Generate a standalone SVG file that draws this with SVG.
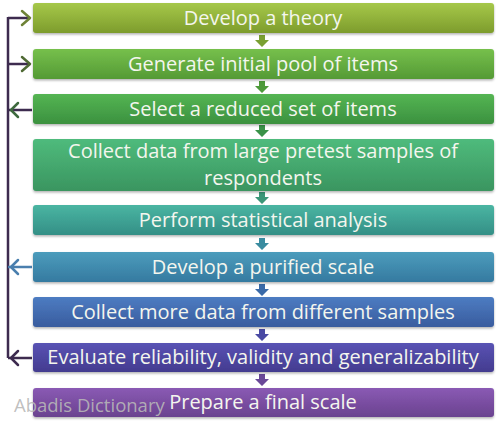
<svg xmlns="http://www.w3.org/2000/svg" width="500" height="423" viewBox="0 0 500 423">
<defs>
<linearGradient id="g1" x1="0" y1="0" x2="0" y2="1"><stop offset="0" stop-color="#a6c84a"/><stop offset="1" stop-color="#7d9c2c"/></linearGradient>
<linearGradient id="g2" x1="0" y1="0" x2="0" y2="1"><stop offset="0" stop-color="#76c04c"/><stop offset="1" stop-color="#559a35"/></linearGradient>
<linearGradient id="g3" x1="0" y1="0" x2="0" y2="1"><stop offset="0" stop-color="#55b553"/><stop offset="1" stop-color="#3b913f"/></linearGradient>
<linearGradient id="g4" x1="0" y1="0" x2="0" y2="1"><stop offset="0" stop-color="#4fbb7c"/><stop offset="1" stop-color="#3a9560"/></linearGradient>
<linearGradient id="g5" x1="0" y1="0" x2="0" y2="1"><stop offset="0" stop-color="#4ab5a2"/><stop offset="1" stop-color="#348f86"/></linearGradient>
<linearGradient id="g6" x1="0" y1="0" x2="0" y2="1"><stop offset="0" stop-color="#4c9cbc"/><stop offset="1" stop-color="#357aa0"/></linearGradient>
<linearGradient id="g7" x1="0" y1="0" x2="0" y2="1"><stop offset="0" stop-color="#4d7cc2"/><stop offset="1" stop-color="#395c9e"/></linearGradient>
<linearGradient id="g8" x1="0" y1="0" x2="0" y2="1"><stop offset="0" stop-color="#5953b4"/><stop offset="1" stop-color="#433b8f"/></linearGradient>
<linearGradient id="g9" x1="0" y1="0" x2="0" y2="1"><stop offset="0" stop-color="#8a5ab4"/><stop offset="1" stop-color="#6a428f"/></linearGradient>
<filter id="sh" x="-5%" y="-20%" width="110%" height="150%"><feDropShadow dx="0" dy="1.5" stdDeviation="1" flood-color="#000" flood-opacity="0.3"/></filter>
<path id="da" d="M-3,0 h6 v5 h4 l-7,7 l-7,-7 h4 z"/>
</defs>
<style>
.box{filter:url(#sh)}
.t{font-family:"Open Sans","Liberation Sans",sans-serif;font-size:20px;fill:#f4f6ee;text-anchor:middle}
.fb{fill:none;stroke:#3d2b4f;stroke-width:2.5}
.ah{fill:none;stroke-width:2.5;stroke-linecap:round;stroke-linejoin:round}
.wm{font-family:"Open Sans","Liberation Sans",sans-serif;font-size:18.5px;fill:#b8b8b8;fill-opacity:0.9}
</style>
<g id="connectors">
<path class="fb" d="M8,17 V358"/>
<path class="fb" d="M8,18 H30"/>
<path class="fb" d="M8,64 H30"/>
<path class="fb" d="M8,110 H32"/>
<path d="M8,267 H32" fill="none" stroke="#4a7fae" stroke-width="2.5"/>
<path class="fb" d="M8,358 H32"/>
<path class="ah" stroke="#6e8236" d="M22,11 L30,18 L22,25"/>
<path class="ah" stroke="#4f6a34" d="M22,57 L30,64 L22,71"/>
<path class="ah" stroke="#3e6a3e" d="M18,103 L11,110 L18,117"/>
<path class="ah" stroke="#4a7fae" d="M18,260 L11,267 L18,274"/>
<path class="ah" stroke="#3d2b4f" d="M18,351 L11,358 L18,365"/>
<use href="#da" x="262" y="35" fill="#7aa032"/>
<use href="#da" x="262" y="81" fill="#4d9a3a"/>
<use href="#da" x="262" y="125" fill="#3a9248"/>
<use href="#da" x="262" y="192" fill="#3b9678"/>
<use href="#da" x="262" y="238" fill="#3a8ca0"/>
<use href="#da" x="262" y="284" fill="#3a6aa8"/>
<use href="#da" x="262" y="329" fill="#4a4aa4"/>
<use href="#da" x="262" y="374" fill="#6a4898"/>
</g>
<g id="n1"><rect class="box" x="33" y="3" width="461" height="30" rx="3" fill="url(#g1)"/><text class="t" x="263" y="25">Develop a theory</text></g>
<g id="n2"><rect class="box" x="33" y="49" width="461" height="30" rx="3" fill="url(#g2)"/><text class="t" x="263" y="71">Generate initial pool of items</text></g>
<g id="n3"><rect class="box" x="33" y="94" width="461" height="30" rx="3" fill="url(#g3)"/><text class="t" x="263" y="116">Select a reduced set of items</text></g>
<g id="n4"><rect class="box" x="33" y="139" width="461" height="52" rx="3" fill="url(#g4)"/><text class="t" x="263" y="158">Collect data from large pretest samples of</text><text class="t" x="263" y="185">respondents</text></g>
<g id="n5"><rect class="box" x="33" y="205" width="461" height="30" rx="3" fill="url(#g5)"/><text class="t" x="263" y="227">Perform statistical analysis</text></g>
<g id="n6"><rect class="box" x="33" y="252" width="461" height="30" rx="3" fill="url(#g6)"/><text class="t" x="263" y="274">Develop a purified scale</text></g>
<g id="n7"><rect class="box" x="33" y="297" width="461" height="30" rx="3" fill="url(#g7)"/><text class="t" x="263" y="319">Collect more data from different samples</text></g>
<g id="n8"><rect class="box" x="33" y="343" width="461" height="29" rx="3" fill="url(#g8)"/><text class="t" x="263" y="364">Evaluate reliability, validity and generalizability</text></g>
<g id="n9"><rect class="box" x="33" y="388" width="461" height="29" rx="3" fill="url(#g9)"/><text class="t" x="263" y="409">Prepare a final scale</text></g>
<text class="wm" x="14" y="412">Abadis Dictionary</text>
</svg>
